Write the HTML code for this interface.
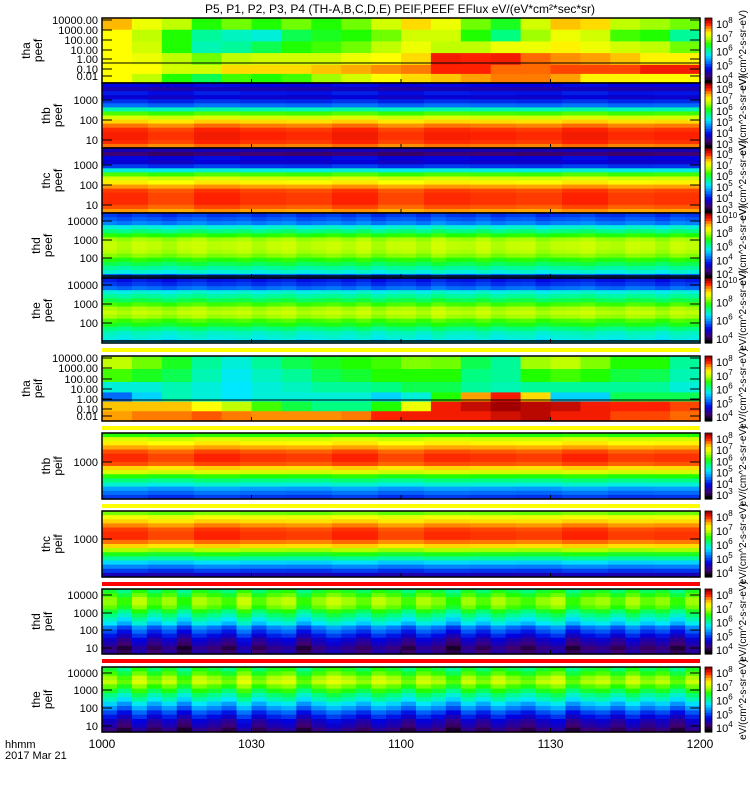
<!DOCTYPE html>
<html><head><meta charset="utf-8"><style>
body{margin:0;background:#fff;}
svg{display:block;font-family:"Liberation Sans",sans-serif;}
</style></head><body>
<svg id="chart" width="750" height="800" viewBox="0 0 750 800" xmlns="http://www.w3.org/2000/svg">
<text x="400" y="13" font-size="12" text-anchor="middle">P5, P1, P2, P3, P4 (TH-A,B,C,D,E) PEIF,PEEF EFlux eV/(eV*cm²*sec*sr)</text>
<g id="layer"></g>
<text x="5" y="748" font-size="11">hhmm</text>
<text x="5" y="759" font-size="11">2017 Mar 21</text>
</svg>
<script>
// ---- data ----
const timeTicks = ["1000","1030","1100","1130","1200"];
const panelNames = [["tha","peef"],["thb","peef"],["thc","peef"],["thd","peef"],["the","peef"],["tha","peif"],["thb","peif"],["thc","peif"],["thd","peif"],["the","peif"]];
const thaPeef = [[.83,.77,.77,.77,.77,.77],[.75,.7,.72,.75,.77,.7],[.7,.6,.6,.7,.72,.6],[.6,.5,.48,.65,.72,.55],[.65,.47,.5,.7,.8,.62],[.6,.45,.55,.72,.8,.6],[.65,.55,.6,.72,.8,.62],[.6,.58,.62,.72,.82,.68],[.65,.6,.65,.75,.84,.72],[.72,.65,.7,.77,.86,.77],[.8,.72,.75,.8,.87,.8],[.75,.72,.7,.93,.92,.82],[.65,.6,.7,.92,.92,.85],[.58,.52,.75,.93,.88,.87],[.72,.68,.75,.88,.88,.87],[.82,.75,.78,.86,.9,.85],[.8,.72,.75,.85,.9,.78],[.7,.62,.72,.82,.9,.78],[.68,.6,.7,.78,.93,.77],[.65,.5,.65,.78,.93,.77]];
const thaPeif = [[.7,.62,.45,.3,.82,.85],[.65,.58,.45,.4,.82,.87],[.58,.55,.48,.48,.82,.87],[.5,.48,.45,.45,.77,.89],[.45,.43,.42,.42,.7,.87],[.5,.47,.45,.45,.62,.86],[.55,.5,.47,.45,.56,.86],[.58,.55,.5,.45,.52,.86],[.6,.57,.5,.45,.52,.87],[.62,.6,.52,.4,.6,.92],[.66,.6,.55,.45,.75,.93],[.65,.6,.55,.6,.93,.93],[.55,.52,.5,.85,.97,.93],[.5,.5,.48,.93,1.0,.96],[.68,.6,.5,.8,.98,.98],[.7,.62,.5,.4,.97,.93],[.66,.6,.5,.4,.93,.93],[.6,.56,.5,.55,.92,.9],[.6,.55,.5,.55,.92,.9],[.5,.48,.45,.55,.9,.88]];
const thbPeefProfile = [.2,.15,.22,.18,.24,.3,.48,.62,.72,.8,.87,.91,.92,.92,.91,.87];
const thcPeefProfile = [.15,.08,.2,.18,.25,.45,.62,.72,.78,.85,.9,.91,.91,.91,.89,.85];
const thdPeefProfile = [.25,.28,.32,.45,.52,.6,.68,.7,.7,.69,.66,.6,.55,.5,.45,.3];
const thePeefProfile = [.22,.25,.3,.45,.5,.55,.62,.68,.7,.68,.62,.58,.52,.47,.45,.42];
const thbPeifProfile = [.6,.72,.78,.84,.89,.91,.91,.89,.8,.72,.6,.52,.45,.35,.3,.25];
const thcPeifProfile = [.65,.75,.8,.86,.9,.91,.91,.87,.8,.68,.58,.5,.4,.32,.25,.15];
const thdPeifProfile = [.55,.6,.65,.65,.62,.55,.5,.45,.4,.3,.25,.2,.15,.12,.08,.1];
const thePeifProfile = [.55,.6,.66,.68,.62,.56,.5,.45,.38,.32,.25,.2,.15,.12,.08];
const coarseOffsets = [.005,-.01,.01,0,-.005,.01,-.01,.005,0,-.005,.01,-.005,0];
const fineOffsets = [.005,-.01,.01,0,-.015,.005,.015,-.005,0,.01,-.01,.005,.015,-.01,0,.01,-.005,.015,-.015,.005,.01,-.01,.02,0,-.005,.015,-.01,.005,.01,-.015,0,.005,.015,-.005,-.01,.01,.005,-.015,.01,0];
const ionOffsets = [.02,-.04,.05,-.02,.03,-.05,.04,.01,-.03,.06,-.02,.03,.05,-.04,.02,.06,.03,-.01,.05,.02,-.03,.04,.01,-.05,.03,-.02,.04,0,-.03,.02,.05,-.04,.01,.03,-.02,.04,-.01,.02,-.04,.03];
const cbarLabels = [[8,7,6,5,4],[8,7,6,5,4,3],[8,7,6,5,4,3],[10,8,6,4,2],[10,8,6,4],[8,7,6,5,4],[8,7,6,5,4,3],[8,7,6,5,4],[8,7,6,5,4],[8,7,6,5,4]];
const yLabels = [
 [["10000.00",24],["1000.00",34],["100.00",44],["10.00",54],["1.00",63],["0.10",73],["0.01",80]],
 [["1000",104],["100",124],["10",144]],
 [["1000",169],["100",189],["10",209]],
 [["10000",225],["1000",244],["100",262]],
 [["10000",289],["1000",308],["100",327]],
 [["10000.00",362],["1000.00",372],["100.00",383],["10.00",393],["1.00",403],["0.10",413],["0.01",420]],
 [["1000",466]],[["1000",543]],
 [["10000",599],["1000",617],["100",634],["10",652]],
 [["10000",677],["1000",694],["100",712],["10",730]]];
// ---- layout ----
const X0=102,X1=700;
const panelY=[[18,83],[83,148],[148,213],[213,278],[278,343],[356,421],[433,499],[511,577],[589,654],[667,732]];
const bars=[[348,352,"#ffff00"],[426,430,"#ffff00"],[504,508,"#ffff00"],[582,586,"#ff0000"],[659,663,"#ff0000"]];
const stops=[[0,[0,0,0]],[.08,[64,0,112]],[.2,[0,0,224]],[.32,[0,128,255]],[.42,[0,232,255]],[.52,[0,255,128]],[.6,[32,255,0]],[.7,[192,255,0]],[.77,[255,255,0]],[.85,[255,160,0]],[.92,[255,32,0]],[1,[160,0,0]]];
function cmap(v){v=Math.max(0,Math.min(1,v));for(let i=1;i<stops.length;i++){if(v<=stops[i][0]){const a=stops[i-1],b=stops[i],t=(v-a[0])/(b[0]-a[0]);return "rgb("+a[1].map((c,k)=>Math.round(c+(b[1][k]-c)*t)).join(",")+")";}}return "rgb(160,0,0)";}
const NS="http://www.w3.org/2000/svg",L=document.getElementById("layer");
function mk(t,a,p){const e=document.createElementNS(NS,t);for(const k in a)e.setAttribute(k,a[k]);(p||L).appendChild(e);return e;}
function xScale(f){return X0+f*(X1-X0);}
function drawGrid(g,y0,y1,nc,nr,val,rowFr){
 for(let c=0;c<nc;c++)for(let r=0;r<nr;r++){
  const ya=rowFr?y0+rowFr[r]*(y1-y0):y0+r*(y1-y0)/nr, yb=rowFr?y0+rowFr[r+1]*(y1-y0):y0+(r+1)*(y1-y0)/nr;
  const xa=xScale(c/nc),xb=xScale((c+1)/nc);
  const e=mk("rect",{x:xa.toFixed(2),y:ya.toFixed(2),width:(xb-xa+0.6).toFixed(2),height:(yb-ya+0.6).toFixed(2),fill:cmap(val(c,r))},g);
  
  
 }}
const configs=[
 {grid:thaPeef,rows:[0,.18,.36,.54,.72,.86,1]},
 {prof:thbPeefProfile,off:coarseOffsets},
 {prof:thcPeefProfile,off:coarseOffsets},
 {prof:thdPeefProfile,off:fineOffsets},
 {prof:thePeefProfile,off:fineOffsets},
 {grid:thaPeif,rows:[0,.2,.4,.56,.7,.85,1]},
 {prof:thbPeifProfile,off:coarseOffsets},
 {prof:thcPeifProfile,off:coarseOffsets},
 {prof:thdPeifProfile,off:ionOffsets},
 {prof:thePeifProfile,off:ionOffsets}];
configs.forEach((cf,i)=>{
 const [y0,y1]=panelY[i];
 const g=mk("g",{});
 
 
 if(cf.grid){drawGrid(g,y0,y1,cf.grid.length,6,(c,r)=>cf.grid[c][r],cf.rows);}
 else{drawGrid(g,y0,y1,cf.off.length,cf.prof.length,(c,r)=>cf.prof[r]+cf.off[c]);}
 const fr=mk("rect",{x:X0,y:y0,width:X1-X0,height:y1-y0,fill:"none",stroke:"#000","stroke-width":1.5},g);
 
 
 if(i===0||i===5){const ly=y0+(i===0?45:44);const ln=mk("line",{x1:X0,x2:X1,y1:ly,y2:ly,stroke:"#000","stroke-width":1},g);}
 yLabels[i].forEach(([t,y])=>{
  const tx=mk("text",{x:98,y:y,"font-size":11,"text-anchor":"end"},g);tx.textContent=t;
  
  
  mk("line",{x1:X0,x2:X0+10,y1:y-4,y2:y-4,stroke:"#000"},g);
  mk("line",{x1:X1-10,x2:X1,y1:y-4,y2:y-4,stroke:"#000"},g);
 });
 timeTicks.forEach((t,k)=>{const x=xScale(k/4);mk("line",{x1:x,x2:x,y1:y1-4,y2:y1,stroke:"#000"},g);});
 const nx=(i===0||i===5)?30:(i===1||i===2||i===6||i===7)?50:40,cy=(y0+y1)/2;
 const nt=mk("text",{transform:"translate("+nx+","+cy+") rotate(-90)","font-size":12,"text-anchor":"middle"},g);
 
 
 const s1=mk("tspan",{x:0,dy:0},nt);s1.textContent=panelNames[i][0];
 const s2=mk("tspan",{x:0,dy:12},nt);s2.textContent=panelNames[i][1];
 const cb=mk("g",{},g);
 
 
 const n=24;for(let k=0;k<n;k++){mk("rect",{x:705,y:(y0+k*(y1-y0)/n).toFixed(2),width:7,height:((y1-y0)/n+0.6).toFixed(2),fill:cmap(1-k/(n-1))},cb);}
 mk("rect",{x:705,y:y0,width:7,height:y1-y0,fill:"none",stroke:"#000","stroke-width":.8},cb);
 const labs=cbarLabels[i];
 labs.forEach((p,k)=>{const y=y0+6+k*(y1-y0-10)/(labs.length-1)+4;
  const t=mk("text",{x:716,y:y,"font-size":11},cb);t.textContent="10";
  const sp=mk("tspan",{dy:-5,"font-size":8},t);sp.textContent=String(p);
  
  });
 const ut=mk("text",{transform:"translate(746,"+cy+") rotate(-90)","font-size":10,"text-anchor":"middle"},g);
 ut.textContent="eV/(cm^2-s-sr-eV)";
 
 
});
bars.forEach(([a,b,c])=>{const e=mk("rect",{x:X0,y:a,width:X1-X0,height:b-a,fill:c});
 
 });
[[276],[341]].forEach(([y])=>{const e=mk("line",{x1:X0,x2:X1,y1:y,y2:y,stroke:"#000","stroke-width":1.5});
 
 });
timeTicks.forEach((t,k)=>{const e=mk("text",{x:xScale(k/4),y:748,"font-size":12,"text-anchor":"middle"});e.textContent=t;
 
 });
</script>
</body></html>
